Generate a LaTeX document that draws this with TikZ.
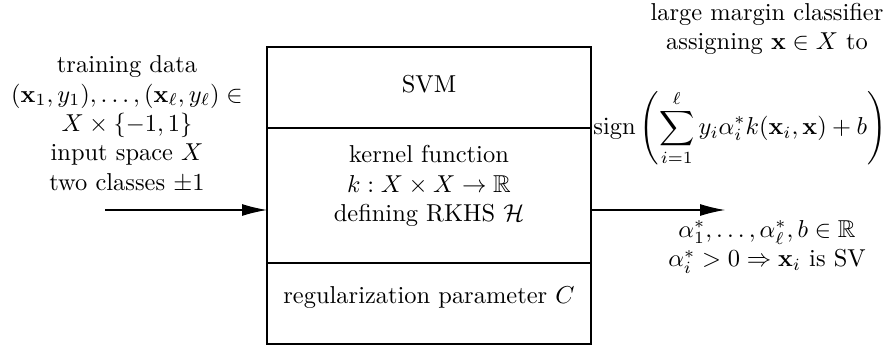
\documentclass[tikz,border=0pt]{standalone}
\usepackage{amsmath,amssymb}
\usetikzlibrary{arrows.meta}
\tikzset{
  px/.style={x=0.409pt,y=-0.409pt},
  lbl/.style={align=center,inner sep=0pt},
  flow/.style={-{Latex[length=10.2pt,width=4.9pt]},line width=0.45pt},
  frame/.style={line width=0.45pt}
}
\begin{document}
\begin{tikzpicture}[px]
\useasboundingbox (0,0) rectangle (888,347);
% SVM box with three compartments
\coordinate (tl) at (267,47);
\coordinate (br) at (591,344);
\draw[frame] (tl) rectangle (br);
\coordinate (d1l) at (267,128); \coordinate (d1r) at (591,128);
\coordinate (d2l) at (267,263); \coordinate (d2r) at (591,263);
\draw[frame] (d1l) -- (d1r);
\draw[frame] (d2l) -- (d2r);
\node[lbl] (svm) at (429,84) {SVM};
\node[lbl] (kern) at (429,186) {kernel function\\ $k:X\times X\to\mathbb{R}$\\ defining RKHS $\mathcal{H}$};
\node[lbl] (reg) at (429,298) {regularization parameter $C$};
% input
\node[lbl] (input) at (127,124) {training data\\ $(\mathbf{x}_1,y_1),\dots,(\mathbf{x}_\ell,y_\ell)\in$\\ $X\times\{-1,1\}$\\ input space $X$\\ two classes $\pm1$};
\coordinate (inS) at (105,210);
\coordinate (inE) at (267,210);
\draw[flow] (inS) -- (inE);
% output
\coordinate (outS) at (591,210);
\coordinate (outE) at (725,210);
\draw[flow] (outS) -- (outE);
\node[lbl] (cls) at (767,29) {large margin classifier\\ assigning $\mathbf{x}\in X$ to};
\node[lbl] (sign) at (740,128) {$\displaystyle \operatorname{sign}\left(\sum_{i=1}^{\ell} y_i\alpha_i^* k(\mathbf{x}_i,\mathbf{x})+b\right)$};
\node[lbl] (coef) at (767,247) {$\alpha_1^*,\dots,\alpha_\ell^*,b\in\mathbb{R}$\\ $\alpha_i^*>0\Rightarrow\mathbf{x}_i$ is SV};
\end{tikzpicture}
\end{document}
